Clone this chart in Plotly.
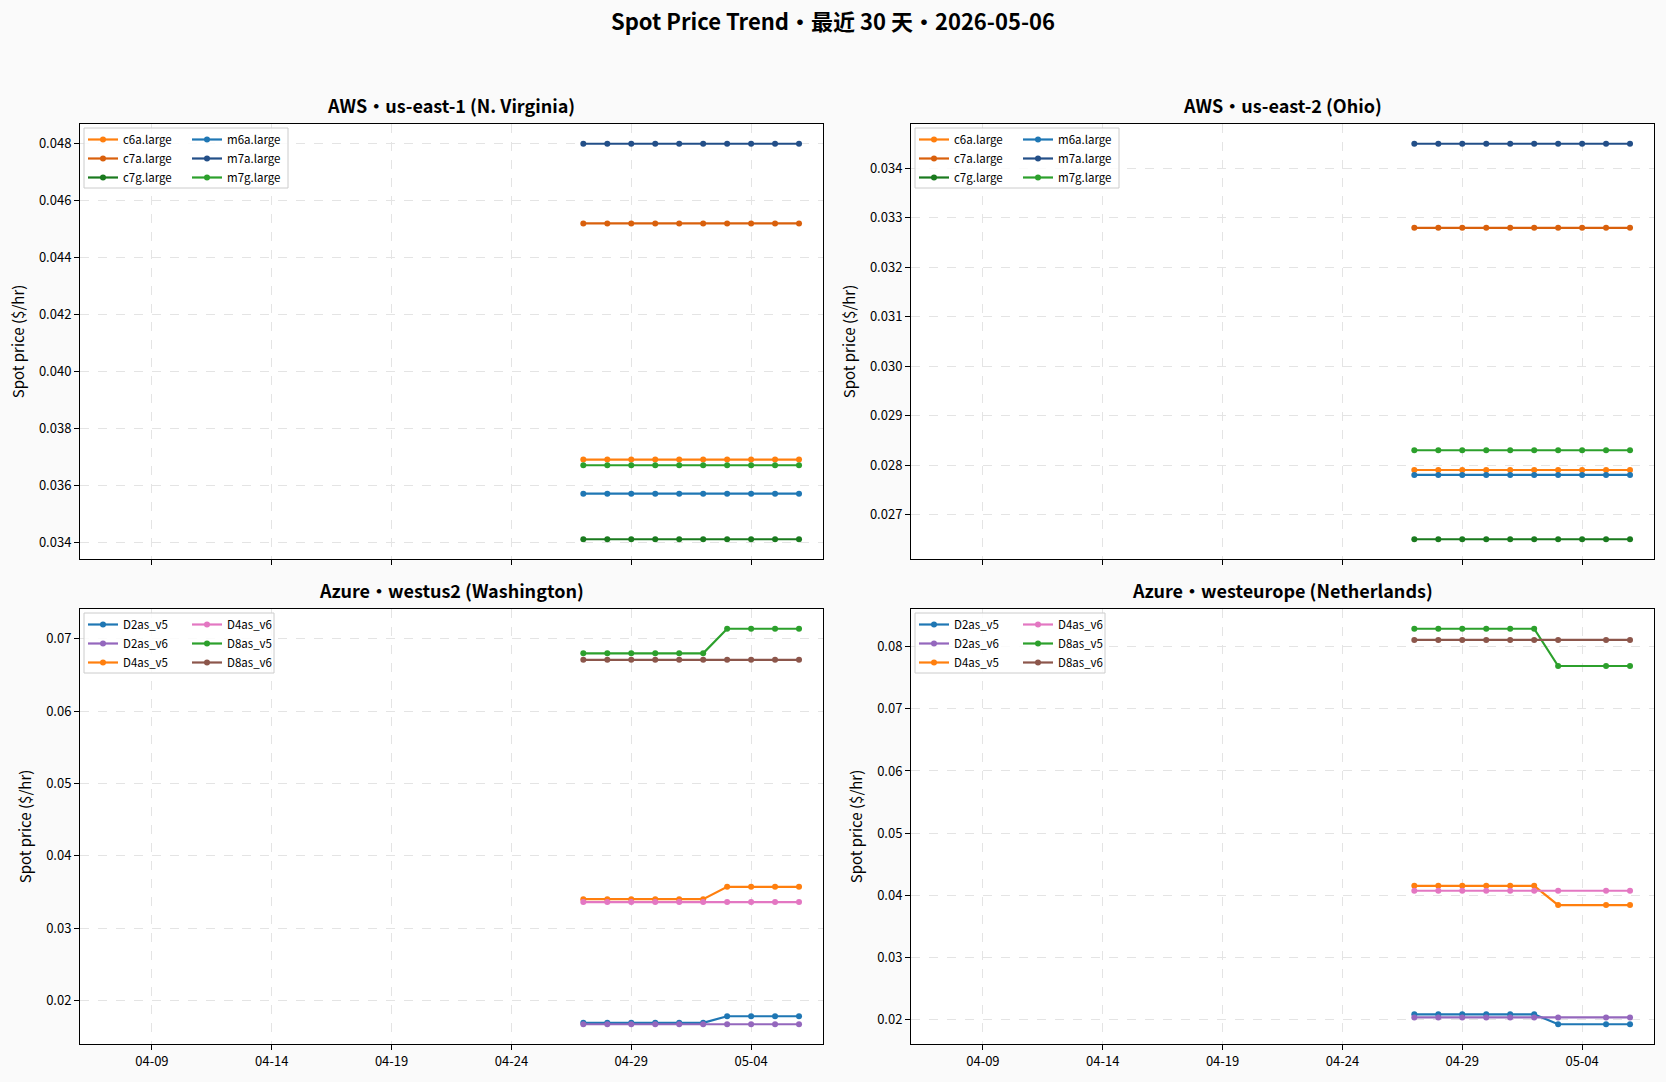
import plotly.graph_objects as go

W, H = 1666, 1082
FONT = "Noto Sans CJK SC"

# dates shown in the plots
days = ["2026-04-27", "2026-04-28", "2026-04-29", "2026-04-30", "2026-05-01",
        "2026-05-02", "2026-05-03", "2026-05-04", "2026-05-05", "2026-05-06"]
# westeurope has no sample on 05-04
days_we = ["2026-04-27", "2026-04-28", "2026-04-29", "2026-04-30", "2026-05-01",
           "2026-05-02", "2026-05-03", "2026-05-05", "2026-05-06"]

aws_types = ["c6a.large", "c7a.large", "c7g.large", "m6a.large", "m7a.large", "m7g.large"]
aws_colors = ["#ff7f0e", "#d9600c", "#1a7a1e", "#1f77b4", "#234f88", "#2ca02c"]

azure_types = ["D2as_v5", "D2as_v6", "D4as_v5", "D4as_v6", "D8as_v5", "D8as_v6"]
azure_colors = ["#1f77b4", "#9467bd", "#ff7f0e", "#e377c2", "#2ca02c", "#8c564b"]

use1 = {
    "c6a.large": [0.0369, 0.0369, 0.0369, 0.0369, 0.0369, 0.0369, 0.0369, 0.0369, 0.0369, 0.0369],
    "c7a.large": [0.0452, 0.0452, 0.0452, 0.0452, 0.0452, 0.0452, 0.0452, 0.0452, 0.0452, 0.0452],
    "c7g.large": [0.0341, 0.0341, 0.0341, 0.0341, 0.0341, 0.0341, 0.0341, 0.0341, 0.0341, 0.0341],
    "m6a.large": [0.0357, 0.0357, 0.0357, 0.0357, 0.0357, 0.0357, 0.0357, 0.0357, 0.0357, 0.0357],
    "m7a.large": [0.0480, 0.0480, 0.0480, 0.0480, 0.0480, 0.0480, 0.0480, 0.0480, 0.0480, 0.0480],
    "m7g.large": [0.0367, 0.0367, 0.0367, 0.0367, 0.0367, 0.0367, 0.0367, 0.0367, 0.0367, 0.0367],
}
use2 = {
    "c6a.large": [0.0279, 0.0279, 0.0279, 0.0279, 0.0279, 0.0279, 0.0279, 0.0279, 0.0279, 0.0279],
    "c7a.large": [0.0328, 0.0328, 0.0328, 0.0328, 0.0328, 0.0328, 0.0328, 0.0328, 0.0328, 0.0328],
    "c7g.large": [0.0265, 0.0265, 0.0265, 0.0265, 0.0265, 0.0265, 0.0265, 0.0265, 0.0265, 0.0265],
    "m6a.large": [0.0278, 0.0278, 0.0278, 0.0278, 0.0278, 0.0278, 0.0278, 0.0278, 0.0278, 0.0278],
    "m7a.large": [0.0345, 0.0345, 0.0345, 0.0345, 0.0345, 0.0345, 0.0345, 0.0345, 0.0345, 0.0345],
    "m7g.large": [0.0283, 0.0283, 0.0283, 0.0283, 0.0283, 0.0283, 0.0283, 0.0283, 0.0283, 0.0283],
}
wus2 = {
    "D2as_v5": [0.0169, 0.0169, 0.0169, 0.0169, 0.0169, 0.0169, 0.0178, 0.0178, 0.0178, 0.0178],
    "D2as_v6": [0.0167, 0.0167, 0.0167, 0.0167, 0.0167, 0.0167, 0.0167, 0.0167, 0.0167, 0.0167],
    "D4as_v5": [0.0340, 0.0340, 0.0340, 0.0340, 0.0340, 0.0340, 0.0357, 0.0357, 0.0357, 0.0357],
    "D4as_v6": [0.0336, 0.0336, 0.0336, 0.0336, 0.0336, 0.0336, 0.0336, 0.0336, 0.0336, 0.0336],
    "D8as_v5": [0.0680, 0.0680, 0.0680, 0.0680, 0.0680, 0.0680, 0.0714, 0.0714, 0.0714, 0.0714],
    "D8as_v6": [0.0671, 0.0671, 0.0671, 0.0671, 0.0671, 0.0671, 0.0671, 0.0671, 0.0671, 0.0671],
}
weu = {
    "D2as_v5": [0.0208, 0.0208, 0.0208, 0.0208, 0.0208, 0.0208, 0.0192, 0.0192, 0.0192],
    "D2as_v6": [0.0203, 0.0203, 0.0203, 0.0203, 0.0203, 0.0203, 0.0203, 0.0203, 0.0203],
    "D4as_v5": [0.0415, 0.0415, 0.0415, 0.0415, 0.0415, 0.0415, 0.0384, 0.0384, 0.0384],
    "D4as_v6": [0.0407, 0.0407, 0.0407, 0.0407, 0.0407, 0.0407, 0.0407, 0.0407, 0.0407],
    "D8as_v5": [0.0829, 0.0829, 0.0829, 0.0829, 0.0829, 0.0829, 0.0769, 0.0769, 0.0769],
    "D8as_v6": [0.0811, 0.0811, 0.0811, 0.0811, 0.0811, 0.0811, 0.0811, 0.0811, 0.0811],
}

panels = [
    ("AWS・us-east-1 (N. Virginia)", days, aws_types, aws_colors, use1, ".3f", 0.002),
    ("AWS・us-east-2 (Ohio)", days, aws_types, aws_colors, use2, ".3f", 0.001),
    ("Azure・westus2 (Washington)", days, azure_types, azure_colors, wus2, ".2f", 0.01),
    ("Azure・westeurope (Netherlands)", days_we, azure_types, azure_colors, weu, ".2f", 0.01),
]

# panel boxes in pixels: left, right, top, bottom
boxes = [(80, 823, 124, 559), (911, 1654, 124, 559),
         (80, 823, 609, 1044), (911, 1654, 609, 1044)]


def px(x):
    return x / W


def py(y):
    return 1 - y / H


fig = go.Figure()
layout = dict(shapes=[], annotations=[])

for i, (title, dts, types, colors, data, fmt, dtick) in enumerate(panels):
    n = "" if i == 0 else str(i + 1)
    l, r, t, b = boxes[i]
    for j, (name, col) in enumerate(zip(types, colors)):
        leg_id = 2 * i + (j // 3) + 1
        fig.add_trace(go.Scatter(
            x=dts, y=data[name], name=name, mode="lines+markers",
            line=dict(color=col, width=2.2), marker=dict(color=col, size=6),
            xaxis="x" + n, yaxis="y" + n,
            legend="legend" if leg_id == 1 else "legend%d" % leg_id,
        ))

    vals = [v for k in types for v in data[k]]
    lo, hi = min(vals), max(vals)
    pad = (hi - lo) * 0.05

    layout["xaxis" + n] = dict(
        domain=[px(l), px(r)], anchor="y" + n, type="date",
        range=["2026-04-06", "2026-05-07"],
        tick0="2026-04-09", dtick=5 * 86400000, tickformat="%m-%d",
        showticklabels=i >= 2, ticks="outside", ticklen=5, tickcolor="black",
        showline=True, linecolor="black", linewidth=1, mirror=True,
        showgrid=True, gridcolor="#e4e4e4", griddash="dash", gridwidth=1,
        tickfont=dict(size=13, color="black"),
    )
    layout["yaxis" + n] = dict(
        domain=[py(b), py(t)], anchor="x" + n,
        range=[lo - pad, hi + pad], dtick=dtick, tickformat=fmt,
        ticks="outside", ticklen=5, tickcolor="black",
        showline=True, linecolor="black", linewidth=1, mirror=True,
        showgrid=True, gridcolor="#e4e4e4", griddash="dash", gridwidth=1,
        zeroline=False, tickfont=dict(size=13, color="black"),
        title=dict(text="Spot price ($/hr)", font=dict(size=15, color="black"), standoff=10),
    )

    layout["annotations"].append(dict(
        text="<b>%s</b>" % title, x=(px(l) + px(r)) / 2, y=py(t), yshift=4,
        xref="paper", yref="paper", xanchor="center", yanchor="bottom",
        showarrow=False, font=dict(size=18, color="black"),
    ))

    # legend frame, two columns
    box_w = 204 if i < 2 else 190
    layout["shapes"].append(dict(
        type="rect", xref="paper", yref="paper", layer="above",
        x0=px(l + 4), x1=px(l + 4 + box_w), y0=py(t + 64), y1=py(t + 4),
        fillcolor="rgba(255,255,255,0.85)", line=dict(color="#cccccc", width=1),
    ))
    col2 = 104
    for c in range(2):
        leg_id = 2 * i + c + 1
        key = "legend" if leg_id == 1 else "legend%d" % leg_id
        layout[key] = dict(
            x=px(l + 3 + c * col2), y=py(t + 1), xanchor="left", yanchor="top",
            bgcolor="rgba(0,0,0,0)", borderwidth=0,
            font=dict(size=11.5, color="black"), tracegroupgap=0,
            itemwidth=30,
        )

fig.update_layout(
    width=W, height=H,
    paper_bgcolor="#fafafa", plot_bgcolor="white",
    font=dict(family=FONT, color="black"),
    margin=dict(l=0, r=0, t=0, b=0),
    title=dict(text="<b>Spot Price Trend・最近 30 天・2026-05-06</b>",
               x=0.5, xanchor="center", y=1 - 22 / H, yanchor="middle",
               font=dict(size=22, color="black")),
    **layout,
)

# page body has an 8px default margin; drop it so the figure sits at 0,0
fig.write_html("out.html", config={"displayModeBar": False},
               post_script="document.body.style.margin='0';")
